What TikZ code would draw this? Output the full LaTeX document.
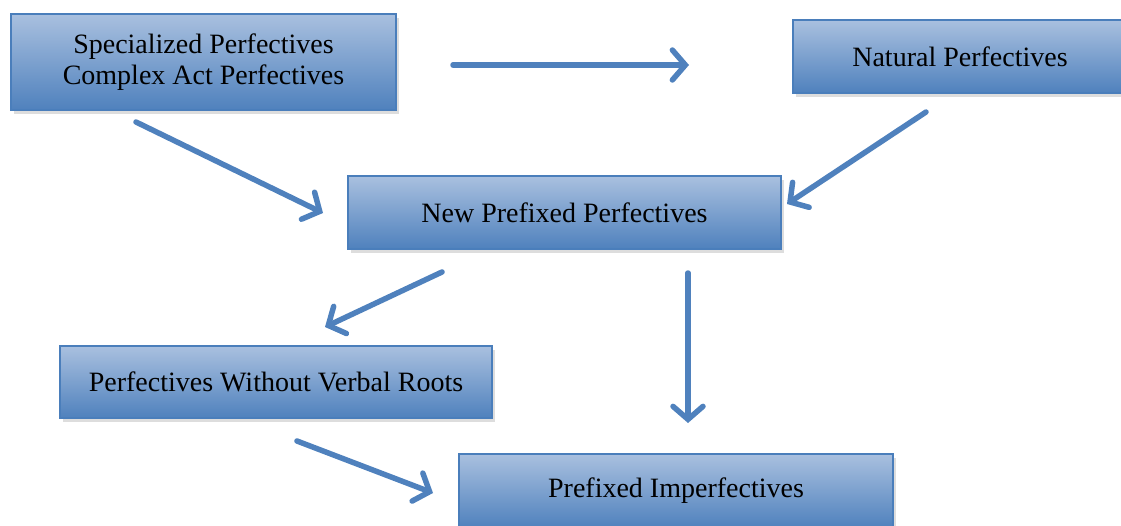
\documentclass[tikz,border=0pt]{standalone}
\usepackage{fontspec}
\setmainfont{Liberation Serif}
\usetikzlibrary{arrows.meta,shadows}
\definecolor{boxtop}{HTML}{A9C0DF}
\definecolor{boxbot}{HTML}{4F81BD}
\definecolor{boxline}{HTML}{4A7EBB}
\definecolor{arr}{HTML}{4F81BD}
\begin{document}
\begin{tikzpicture}[x=1pt,y=-1pt,
  cbox/.style={draw=boxline, line width=1.2pt, top color=boxtop, bottom color=boxbot,
    minimum height=#1, align=center, inner sep=0pt, text=black,
    font=\fontsize{28}{31}\selectfont,
    drop shadow={shadow xshift=3pt, shadow yshift=-4pt, opacity=0.22, fill=black!60}},
  conn/.style={draw=arr, line width=5.5pt, line cap=round,
    -{Straight Barb[length=13pt, width=30pt, line width=5.5pt, line cap=round]}}
]
\useasboundingbox (0,0) rectangle (1121,525);
\node[cbox=96pt, minimum width=385pt] (spec) at (203.5,62) {Specialized Perfectives\\Complex Act Perfectives};
\node[cbox=73pt, minimum width=334pt] (nat) at (960,56.5) {Natural Perfectives};
\node[cbox=73pt, minimum width=433pt] (newp) at (564.5,212.5) {New Prefixed Perfectives};
\node[cbox=72pt, minimum width=432pt] (wvr) at (276,382) {Perfectives Without Verbal Roots};
\node[cbox=74pt, minimum width=434pt] (pimp) at (676,491) {Prefixed Imperfectives};
\coordinate (a1s) at (453,65);  \coordinate (a1e) at (689,65);
\coordinate (a2s) at (136,122); \coordinate (a2e) at (323,213);
\coordinate (a3s) at (926,112); \coordinate (a3e) at (787,204);
\coordinate (a4s) at (442,272); \coordinate (a4e) at (325,327);
\coordinate (a5s) at (688,273); \coordinate (a5e) at (688,423);
\coordinate (a6s) at (297,441); \coordinate (a6e) at (433,493);
\foreach \s/\e in {a1s/a1e,a2s/a2e,a3s/a3e,a4s/a4e,a5s/a5e,a6s/a6e}
  \draw[conn] (\s) -- (\e);
\end{tikzpicture}
\end{document}
